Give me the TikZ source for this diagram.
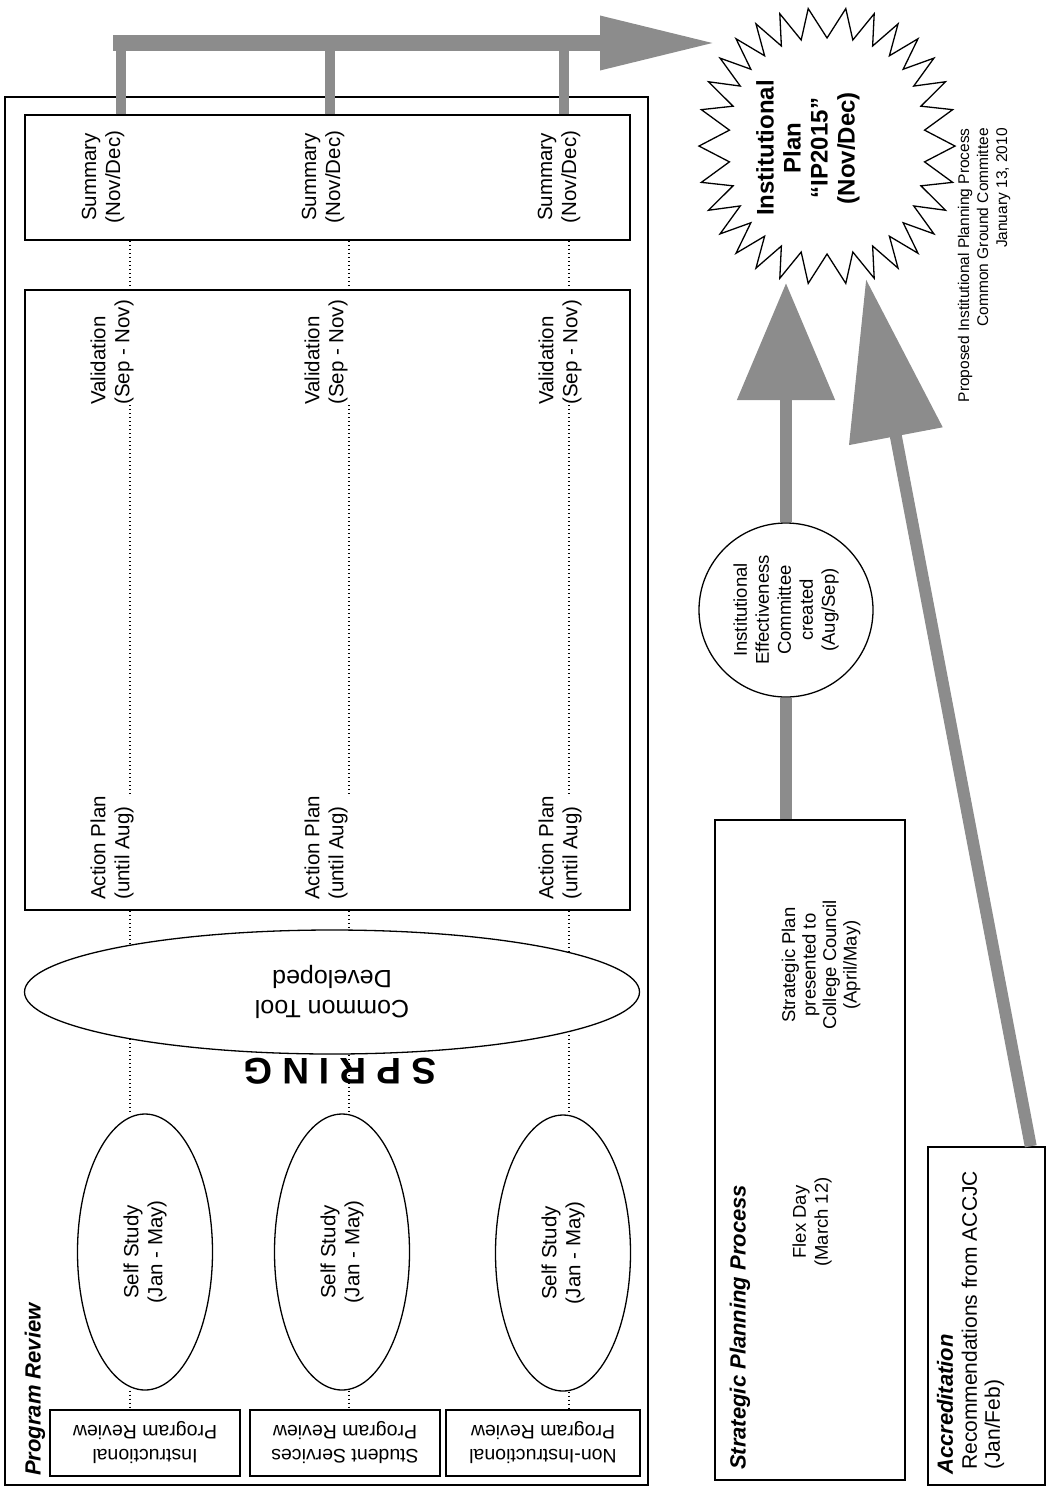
\documentclass[tikz,border=0pt]{standalone}
\usepackage{fontspec}
\setmainfont{Liberation Sans}
\usetikzlibrary{calc}
\usetikzlibrary{shapes}
\usetikzlibrary{arrows.meta}
\usetikzlibrary{backgrounds}

\begin{document}
\begin{tikzpicture}[x=1pt, y=-1pt,
  box/.style={draw, rectangle, line width=1.5pt, inner sep=0pt},
  oval/.style={draw, ellipse, line width=1.3pt, inner sep=0pt},
  txt/.style={inner sep=0pt, align=center, font=\fontsize{20.5}{24}\selectfont},
  up/.style={txt, rotate=90},
  title/.style={inner sep=0pt, rotate=90, anchor=west, font=\fontsize{22}{26}\selectfont\bfseries\itshape},
  dotline/.style={line width=1.3pt, dash pattern=on 1.3pt off 2.7pt},
  grayline/.style={draw=black!45, line width=12pt},
  bigarrow/.style={grayline, -{Triangle[length=117pt, width=95pt]}}]
  \useasboundingbox (0,0) rectangle (1047,1492);

  \node[box, minimum width=643pt, minimum height=1388pt] (prbox) at (326.5,791) {};
  \node[box, minimum width=605pt, minimum height=125pt] (sumbox) at (327.5,177.5) {};
  \node[box, minimum width=605pt, minimum height=620pt] (planbox) at (327.5,600) {};
  \node[title] (prtitle) at (35,1476) {Program Review};

  \coordinate (c1) at (130,0);
  \coordinate (c2) at (349,0);
  \coordinate (c3) at (569,0);

  \node[up] (sum1) at (103,177) {Summary\\(Nov/Dec)};
  \node[up] (sum2) at (323,177) {Summary\\(Nov/Dec)};
  \node[up] (sum3) at (559,177) {Summary\\(Nov/Dec)};

  \node[up, anchor=west, align=left] (val1) at (112,405) {Validation\\(Sep - Nov)};
  \node[up, anchor=west, align=left] (val2) at (326,405) {Validation\\(Sep - Nov)};
  \node[up, anchor=west, align=left] (val3) at (560,405) {Validation\\(Sep - Nov)};

  \node[up, anchor=west, align=left] (act1) at (112,900) {Action Plan\\(until Aug)};
  \node[up, anchor=west, align=left] (act2) at (326,900) {Action Plan\\(until Aug)};
  \node[up, anchor=west, align=left] (act3) at (560,900) {Action Plan\\(until Aug)};

  \node[oval, fill=white, minimum width=615pt, minimum height=124pt, txt, rotate=180,
    font=\fontsize{25}{30}\selectfont] (tool) at (332,992) {Common Tool\\Developed};
  \node[rotate=180, inner sep=0pt, font=\fontsize{37}{40}\selectfont\bfseries] (spring) at (340,1071) {S P R I N G};

  \node[oval, up, minimum width=276pt, minimum height=135pt] (self1) at (145,1252) {Self Study\\(Jan - May)};
  \node[oval, up, minimum width=276pt, minimum height=135pt] (self2) at (342,1252) {Self Study\\(Jan - May)};
  \node[oval, up, minimum width=276pt, minimum height=135pt] (self3) at (563,1253) {Self Study\\(Jan - May)};

  \node[box, txt, rotate=180, minimum width=190pt, minimum height=66pt,
    font=\fontsize{19.5}{24}\selectfont] (pr1) at (145,1443) {Instructional\\Program Review};
  \node[box, txt, rotate=180, minimum width=190pt, minimum height=66pt,
    font=\fontsize{19.5}{24}\selectfont] (pr2) at (345,1443) {Student Services\\Program Review};
  \node[box, txt, rotate=180, minimum width=194pt, minimum height=66pt,
    font=\fontsize{19.5}{24}\selectfont] (pr3) at (543,1443) {Non-Instructional\\Program Review};

  \begin{scope}[on background layer]
    \draw[dotline] (sumbox.south -| c1) -- (planbox.north -| c1);
    \draw[dotline] (sumbox.south -| c2) -- (planbox.north -| c2);
    \draw[dotline] (sumbox.south -| c3) -- (planbox.north -| c3);
    \draw[dotline] (val1.west -| c1) -- (act1.east -| c1);
    \draw[dotline] (val2.west -| c2) -- (act2.east -| c2);
    \draw[dotline] (val3.west -| c3) -- (act3.east -| c3);
    \draw[dotline] (planbox.south -| c1) -- (self1.east -| c1);
    \draw[dotline] (planbox.south -| c2) -- (self2.east -| c2);
    \draw[dotline] (planbox.south -| c3) -- (self3.east -| c3);
    \draw[dotline] (self1.west -| c1) -- (pr1.south -| c1);
    \draw[dotline] (self2.west -| c2) -- (pr2.south -| c2);
    \draw[dotline] (self3.west -| c3) -- (pr3.south -| c3);
  \end{scope}

  \node[box, minimum width=190pt, minimum height=660pt] (spbox) at (810,1150) {};
  \node[title] (sptitle) at (740,1470) {Strategic Planning Process};
  \node[up, font=\fontsize{18.5}{22}\selectfont] (flex) at (812,1222) {Flex Day\\(March 12)};
  \node[up, font=\fontsize{18.5}{20.5}\selectfont] (spplan) at (821,965) {Strategic Plan\\presented to\\College Council\\(April/May)};
  \node[draw, circle, line width=1.3pt, up, minimum size=174pt,
    font=\fontsize{18.5}{22}\selectfont] (iec) at (786,610) {Institutional\\Effectiveness\\Committee\\created\\(Aug/Sep)};

  \node[box, minimum width=117pt, minimum height=338pt] (accbox) at (986.5,1316) {};
  \node[title] (acctitle) at (945,1475) {Accreditation};
  \node[up, anchor=west, align=left, font=\fontsize{21}{23}\selectfont] (rec) at (983,1470) {Recommendations from ACCJC\\(Jan/Feb)};

  \draw[line width=1.3pt, fill=white] plot[domain=0:59, samples=60]
    ({827+(128-30*mod(round(\x),2))*(cos(6*\x)<0 ? -1 : 1)*(abs(cos(6*\x))+0.0001)^0.85},
     {146+(138-30*mod(round(\x),2))*(sin(6*\x)<0 ? -1 : 1)*(abs(sin(6*\x))+0.0001)^0.85}) -- cycle;
  \node[up, font=\fontsize{24}{27}\selectfont\bfseries] (ip) at (808,148) {Institutional\\Plan\\“IP2015”\\(Nov/Dec)};

  \node[up, anchor=east, align=right, font=\fontsize{15.5}{19}\selectfont] (note) at (984,128)
    {Proposed Institutional Planning Process\\Common Ground Committee\\January 13, 2010};

  \coordinate (bar) at (0,43);
  \coordinate (s1) at (121,0);
  \coordinate (s2) at (330,0);
  \coordinate (s3) at (564,0);
  \coordinate (tipA) at (717,43);
  \coordinate (tipB) at (786,283);
  \coordinate (tipC) at (866,279);
  \draw[grayline, line width=10pt] (sumbox.north -| s1) -- (s1 |- bar);
  \draw[grayline, line width=10pt] (sumbox.north -| s2) -- (s2 |- bar);
  \draw[grayline, line width=10pt] (sumbox.north -| s3) -- (s3 |- bar);
  \draw[grayline, line width=16pt, line cap=rect, -{Triangle[length=117pt, width=50pt]}] (s1 |- bar) -- (tipA);
  \draw[grayline] (spbox.north -| iec) -- (iec.west);
  \draw[bigarrow] (iec.east) -- (tipB);
  \draw[grayline, -{Triangle[length=160pt, width=92pt]}] ([xshift=-15pt]accbox.north east) -- (tipC);
\end{tikzpicture}
\end{document}
